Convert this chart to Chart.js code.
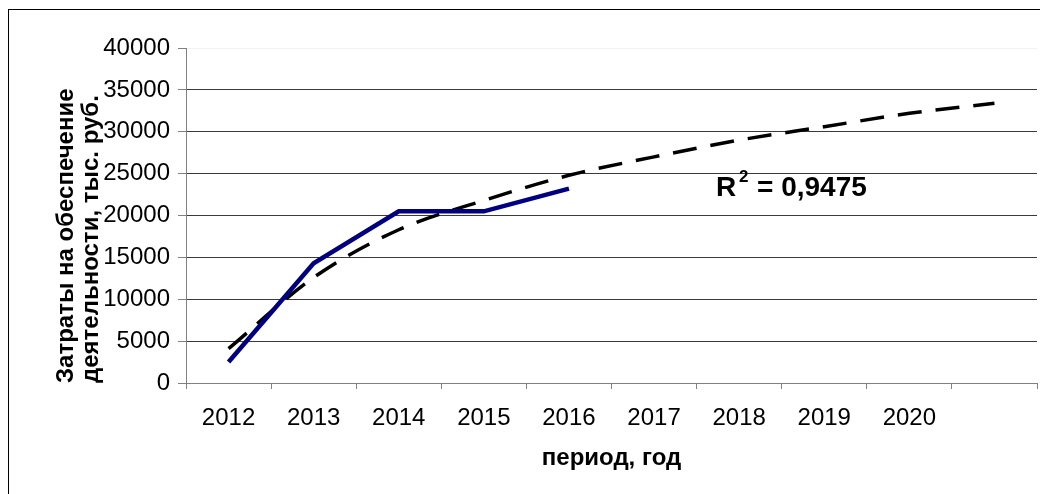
<!DOCTYPE html>
<html>
<head>
<meta charset="utf-8">
<script src="https://cdn.jsdelivr.net/npm/chart.js@4/dist/chart.umd.min.js"></script>
<style>
  body { margin: 0; background: #fff; }
  #wrap { position: relative; width: 1040px; height: 494px; overflow: hidden; }
  #frame {
    position: absolute; left: 8px; top: 9px; width: 1100px; height: 600px;
    border-left: 1px solid #000; border-top: 1px solid #000;
  }
  #chart { position: absolute; left: 0; top: 0; }
</style>
</head>
<body>
<div id="wrap">
  <div id="frame"></div>
  <canvas id="chart" width="1040" height="494"></canvas>
</div>
<script>
// categories on the x axis (last slot has no label, trend runs into it)
const years = ['2012', '2013', '2014', '2015', '2016', '2017', '2018', '2019', '2020', ''];

// costs, thousand rubles
const costs = [2500, 14300, 20500, 20500, 23200, null, null, null, null, null];

// logarithmic trend line
const trend = [4100, 12600, 18300, 21800, 24800, 27000, 29000, 30600, 32200, 33400];

const yTitleLines = ['Затраты на обеспечение', 'деятельности, тыс. руб.'];
const xTitle = 'период, год';
const rSquared = '0,9475';

const FONT = "'Liberation Sans', Arial, sans-serif";

const textPlugin = {
  id: 'textPlugin',
  afterDraw(chart) {
    const { ctx } = chart;
    ctx.save();
    ctx.fillStyle = '#000';

    // y axis title, two rotated lines
    ctx.font = `bold 24px ${FONT}`;
    ctx.textAlign = 'left';
    ctx.textBaseline = 'alphabetic';
    [73, 98].forEach((x, i) => {
      ctx.save();
      ctx.translate(x, 383);
      ctx.rotate(-Math.PI / 2);
      ctx.fillText(yTitleLines[i], 0, 0);
      ctx.restore();
    });

    // x axis title
    const area = chart.chartArea;
    ctx.textAlign = 'center';
    ctx.font = `bold 24px ${FONT}`;
    ctx.fillText(xTitle, (area.left + area.right) / 2, 465);

    // R squared label
    ctx.textAlign = 'left';
    ctx.font = `bold 28px ${FONT}`;
    ctx.fillText('R', 716, 196);
    ctx.font = `bold 17px ${FONT}`;
    ctx.fillText('2', 739, 182);
    ctx.font = `bold 28px ${FONT}`;
    ctx.fillText('= ' + rSquared, 757, 196);

    ctx.restore();
  },
};

const ctx = document.getElementById('chart');

const chart = new Chart(ctx, {
  type: 'line',
  data: {
    labels: years,
    datasets: [
      {
        label: 'Затраты',
        data: costs,
        borderColor: '#000080',
        borderWidth: 4.5,
        pointRadius: 0,
        tension: 0,
      },
      {
        label: 'Логарифмическая',
        data: trend,
        borderColor: '#000',
        borderWidth: 3.5,
        borderDash: [24, 14],
        pointRadius: 0,
        cubicInterpolationMode: 'monotone',
      },
    ],
  },
  options: {
    responsive: false,
    animation: false,
    devicePixelRatio: 1,
    layout: { padding: { top: 48, right: 3, left: 0, bottom: 0 } },
    plugins: {
      legend: { display: false },
      tooltip: { enabled: false },
    },
    scales: {
      x: {
        offset: true,
        grid: {
          offset: true,
          drawOnChartArea: false,
          tickLength: 6,
          tickColor: '#808080',
        },
        border: { color: '#808080', width: 1 },
        ticks: {
          color: '#000',
          padding: 15,
          maxRotation: 0,
          autoSkip: false,
          font: { family: FONT, size: 24 },
        },
        afterFit(scale) {
          scale.height = 111;
        },
      },
      y: {
        min: 0,
        max: 40000,
        ticks: {
          stepSize: 5000,
          color: '#000',
          padding: 8,
          font: { family: FONT, size: 24 },
          callback: (value) => String(value),
        },
        grid: {
          color: (c) => (c.tick && c.tick.value === 40000 ? '#f2f2f2' : '#3a3a3a'),
          tickColor: '#808080',
          tickLength: 8,
          lineWidth: 1,
        },
        border: { color: '#808080', width: 1 },
        afterFit(scale) {
          scale.width = 186;
        },
      },
    },
  },
  plugins: [textPlugin],
});
</script>
</body>
</html>
